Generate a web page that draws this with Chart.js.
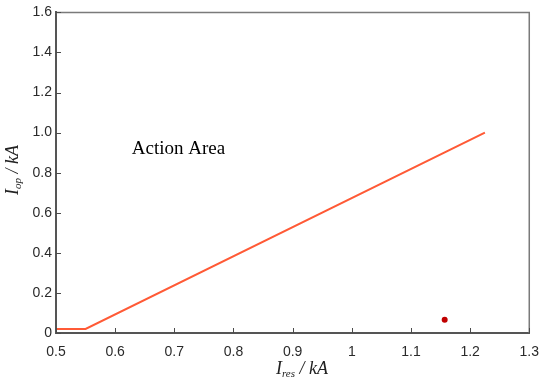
<!DOCTYPE html>
<html>
<head>
<meta charset="utf-8">
<script src="https://cdn.jsdelivr.net/npm/chart.js@4.4.0/dist/chart.umd.min.js"></script>
<style>
  html, body { margin: 0; padding: 0; background: #fff; }
  #chart { display: block; }
</style>
</head>
<body>
<canvas id="chart" width="550" height="391"></canvas>
<script>
// characteristic curve (restraint current vs operating current, kA)
const resCurrent = [0.5, 0.55, 1.225];
const opCurrent = [0.02, 0.02, 1.0];

// measured fault point
const faultRes = [1.157];
const faultOp = [0.066];

const xTicks = [0.5, 0.6, 0.7, 0.8, 0.9, 1.0, 1.1, 1.2, 1.3];
const yTicks = [0, 0.2, 0.4, 0.6, 0.8, 1.0, 1.2, 1.4, 1.6];

const areaLabel = 'Action Area';
const areaPos = [0.628, 0.895];

function drawSubLabel(ctx, parts, cx, cy, angle) {
    ctx.save();
    ctx.translate(cx, cy);
    ctx.rotate(angle);
    ctx.textBaseline = 'middle';
    ctx.fillStyle = '#222';
    let total = 0;
    parts.forEach(p => {
        ctx.font = `italic ${p.size}px "Liberation Serif", "Times New Roman", serif`;
        p.w = ctx.measureText(p.t).width;
        total += p.w;
    });
    let x = -total / 2;
    parts.forEach(p => {
        ctx.font = `italic ${p.size}px "Liberation Serif", "Times New Roman", serif`;
        ctx.fillText(p.t, x, p.dy || 0);
        x += p.w;
    });
    ctx.restore();
}

const decorPlugin = {
    id: 'decor',
    afterDraw(chart) {
        const { ctx, chartArea: a, scales: { x, y } } = chart;
        ctx.save();

        // box on top and right
        ctx.strokeStyle = '#7a7a7a';
        ctx.lineWidth = 1.5;
        ctx.beginPath();
        ctx.moveTo(a.left, a.top);
        ctx.lineTo(a.right, a.top);
        ctx.lineTo(a.right, a.bottom);
        ctx.stroke();

        // inward ticks
        ctx.strokeStyle = '#4a4a4a';
        ctx.lineWidth = 1;
        ctx.beginPath();
        xTicks.forEach(v => {
            const px = Math.round(x.getPixelForValue(v)) + 0.5;
            ctx.moveTo(px, a.bottom);
            ctx.lineTo(px, a.bottom - 5);
        });
        yTicks.forEach(v => {
            const py = Math.round(y.getPixelForValue(v)) + 0.5;
            ctx.moveTo(a.left, py);
            ctx.lineTo(a.left + 5, py);
        });
        ctx.stroke();

        // annotation
        ctx.fillStyle = '#000';
        ctx.font = '19px "Liberation Serif", "Times New Roman", serif';
        ctx.textBaseline = 'alphabetic';
        ctx.fillText(areaLabel, x.getPixelForValue(areaPos[0]), y.getPixelForValue(areaPos[1]));
        ctx.restore();

        // axis titles
        drawSubLabel(ctx, [
            { t: 'I', size: 18 },
            { t: 'res', size: 11, dy: 5 },
            { t: ' / kA', size: 18 }
        ], 302, 369, 0);
        drawSubLabel(ctx, [
            { t: 'I', size: 18 },
            { t: 'op', size: 11, dy: 5 },
            { t: ' / kA', size: 18 }
        ], 13, 170, -Math.PI / 2);
    }
};

const ctx = document.getElementById('chart').getContext('2d');
new Chart(ctx, {
    type: 'scatter',
    data: {
        datasets: [{
            type: 'line',
            data: resCurrent.map((v, i) => ({ x: v, y: opCurrent[i] })),
            borderColor: '#ff5a36',
            borderWidth: 2,
            pointRadius: 0,
            fill: false,
            tension: 0
        }, {
            data: faultRes.map((v, i) => ({ x: v, y: faultOp[i] })),
            backgroundColor: '#c00000',
            borderColor: '#c00000',
            pointRadius: 3,
            pointBorderWidth: 0
        }]
    },
    options: {
        responsive: false,
        animation: false,
        layout: { padding: { left: 0, right: 18, top: 11, bottom: 0 } },
        plugins: {
            legend: { display: false },
            tooltip: { enabled: false }
        },
        scales: {
            x: {
                type: 'linear',
                min: 0.5,
                max: 1.3,
                afterFit: s => { s.height = 58; },
                afterBuildTicks: s => { s.ticks = xTicks.map(v => ({ value: v })); },
                grid: { display: false, drawTicks: false },
                border: { color: '#555', width: 2 },
                ticks: {
                    padding: 11,
                    color: '#2a2a2a',
                    font: { family: '"Liberation Sans", Arial, sans-serif', size: 14 },
                    callback: v => (Math.abs(v - 1) < 1e-9 ? '1' : v.toFixed(1))
                }
            },
            y: {
                type: 'linear',
                min: 0,
                max: 1.6,
                afterFit: s => { s.width = 56; },
                afterBuildTicks: s => { s.ticks = yTicks.map(v => ({ value: v })); },
                grid: { display: false, drawTicks: false },
                border: { color: '#555', width: 2 },
                ticks: {
                    padding: 4,
                    color: '#2a2a2a',
                    font: { family: '"Liberation Sans", Arial, sans-serif', size: 14 },
                    callback: v => (v === 0 ? '0' : v.toFixed(1))
                }
            }
        }
    },
    plugins: [decorPlugin]
});
</script>
</body>
</html>
